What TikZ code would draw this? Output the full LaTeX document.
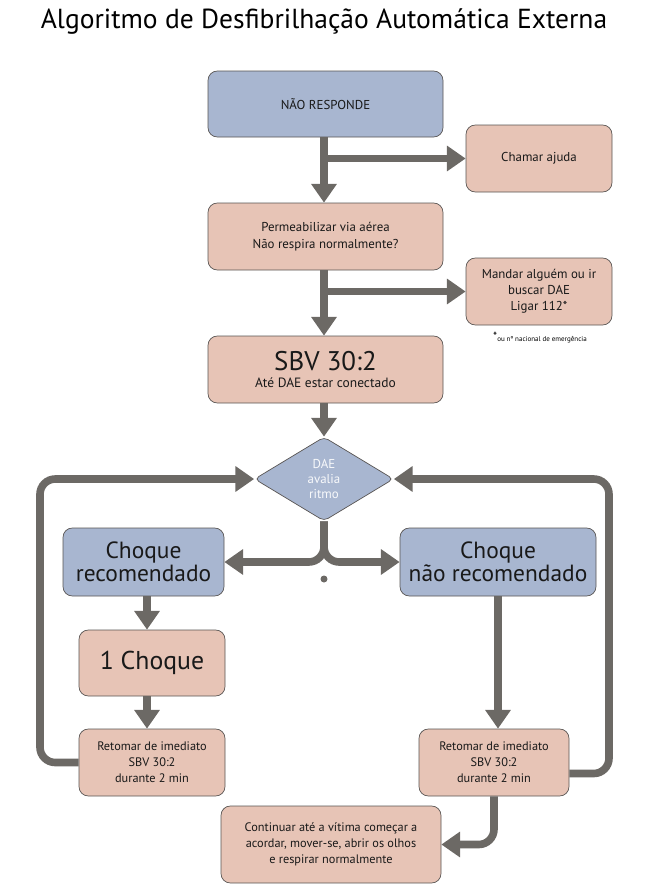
\documentclass[tikz,border=0pt]{standalone}
\usepackage{fontspec}
\setmainfont{PT Sans}
\usetikzlibrary{positioning, shapes.geometric, arrows.meta, calc}
\definecolor{BoxBlue}{RGB}{168, 182, 208}
\definecolor{BoxPink}{RGB}{231, 196, 182}
\definecolor{LineGray}{RGB}{108, 105, 101}
\definecolor{EdgeGray}{RGB}{88, 84, 82}

\tikzset{
  sized/.style n args={2}{minimum width=#1*0.03cm, minimum height=#2*0.03cm},
  box/.style={draw=EdgeGray, line width=0.6pt, rounded corners=8pt, align=center, inner sep=2pt, text=black!90},
  bluebox/.style={box, fill=BoxBlue},
  pinkbox/.style={box, fill=BoxPink},
  flow/.style={draw=LineGray, line width=6.5pt, -{Triangle[length=16pt, width=21pt]}},
  loop/.style={flow, rounded corners=13pt}
}

\begin{document}
\begin{tikzpicture}[x=0.03cm, y=-0.03cm]
    \useasboundingbox (0,0) rectangle (649,889);

    % Title
    \node (title) at (324,22) {\fontsize{23.5}{26}\selectfont Algoritmo de Desfibrilhação Automática Externa};

    % Boxes
    \node[bluebox, sized={235}{66}, font=\fontsize{11}{13}\selectfont] (nao) at (325.5,104) {NÃO RESPONDE};
    \node[pinkbox, sized={146}{67}, font=\fontsize{11}{13}\selectfont] (chamar) at (539,158.5) {Chamar ajuda};
    \node[pinkbox, sized={235}{67}, font=\fontsize{11}{14}\selectfont] (perm) at (325.5,236.5) {Permeabilizar via aérea\\Não respira normalmente?};
    \node[pinkbox, sized={146}{67}, font=\fontsize{11}{13.5}\selectfont] (mandar) at (539,291.5) {Mandar alguém ou ir\\buscar DAE\\Ligar 112*};
    \node[font=\fontsize{6}{7}\selectfont] (nota) at (540,338) {\raisebox{0.3ex}{\fontsize{10}{10}\selectfont *}ou nº nacional de emergência};
    \node[pinkbox, sized={235}{67}] (sbv) at (325.5,369.5) {\fontsize{23}{24}\selectfont SBV 30:2\\[3pt]\fontsize{11.5}{13}\selectfont Até DAE estar conectado};
    \node[diamond, draw=EdgeGray, line width=0.6pt, fill=BoxBlue, rounded corners=4pt, inner sep=0pt,
          sized={139}{84}, align=center, text=white!92!BoxBlue, font=\fontsize{11}{13}\selectfont] (dae) at (324,479) {DAE\\avalia\\ritmo};

    \node[bluebox, sized={161}{68}, font=\fontsize{20}{20}\selectfont] (crec) at (143.5,562) {Choque\\recomendado};
    \node[bluebox, sized={196}{68}, font=\fontsize{20}{20}\selectfont] (cnr) at (498,562) {Choque\\não recomendado};
    \node[circle, fill=LineGray, inner sep=0pt, minimum size=7*0.03cm] (dot) at (324,579) {};

    \node[pinkbox, sized={146}{66}, font=\fontsize{22}{24}\selectfont] (choque) at (152,663) {1 Choque};
    \node[pinkbox, sized={146}{67}, font=\fontsize{10.5}{13.5}\selectfont] (retl) at (152,762.5) {Retomar de imediato\\SBV 30:2\\durante 2 min};
    \node[pinkbox, sized={150}{67}, font=\fontsize{10.5}{13.5}\selectfont] (retr) at (494,762.5) {Retomar de imediato\\SBV 30:2\\durante 2 min};
    \node[pinkbox, sized={220}{77}, font=\fontsize{10.5}{13.5}\selectfont] (cont) at (331,844.5) {Continuar até a vítima começar a\\acordar, mover-se, abrir os olhos\\e respirar normalmente};

    % Main line
    \draw[flow] (nao.south -| 324,0) -- (perm.north -| 324,0);
    \draw[flow] (324,158.5) -- (chamar.west);
    \draw[flow] (perm.south -| 324,0) -- (sbv.north -| 324,0);
    \draw[flow] (324,291.5) -- (mandar.west);
    \draw[flow] (sbv.south -| 324,0) -- (dae.north);

    % Split after the rhythm check
    \draw[loop] (dae.south) |- (crec.east);
    \draw[loop] (dae.south) |- (cnr.west);

    % Shock branch
    \draw[flow] (crec.south -| 147,0) -- (choque.north -| 147,0);
    \draw[flow] (choque.south -| 147,0) -- (retl.north -| 147,0);
    \draw[flow] (cnr.south) -- (cnr.south |- retr.north);

    % Loops back to the DAE
    \coordinate (cl) at (40,479);
    \coordinate (cr) at (609,479);
    \draw[loop] (retl.west) -| (cl) -- (dae.west);
    \draw[loop] ($(retr.east)+(0,11)$) -| (cr) -- (dae.east);
    \draw[loop] (retr.south) |- (cont.east);
\end{tikzpicture}
\end{document}
